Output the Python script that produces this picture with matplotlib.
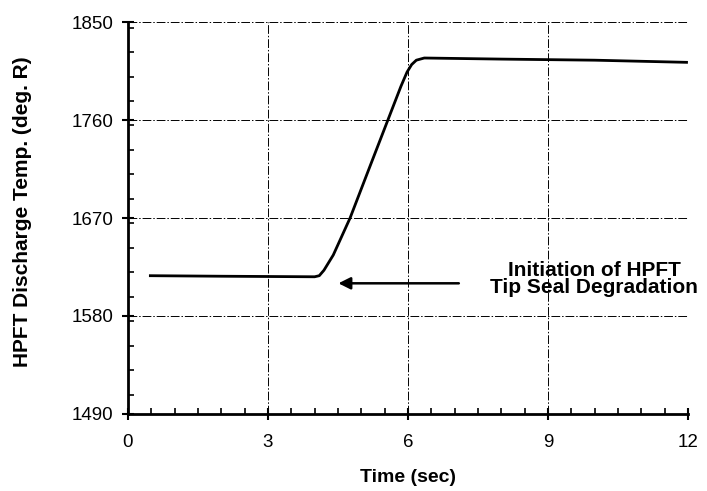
import matplotlib
matplotlib.use("Agg")
import matplotlib.pyplot as plt
from matplotlib.ticker import MultipleLocator

plt.rcParams['font.family'] = ['Liberation Sans', 'DejaVu Sans']

# temperature trace
time_s = [0.45, 2.0, 4.0, 4.1, 4.2, 4.4, 4.76, 5.2, 5.57, 5.85, 5.98, 6.08, 6.18, 6.35, 8.0, 10.0, 12.0]
temp_R = [1617, 1616.5, 1616, 1617, 1622, 1636, 1670, 1719, 1760, 1791, 1804, 1811, 1815, 1817, 1816, 1815, 1813]

xticks = [0, 3, 6, 9, 12]
yticks = [1490, 1580, 1670, 1760, 1850]

fig = plt.figure(figsize=(7.07, 4.91), dpi=100)
ax = fig.add_axes([0.181, 0.157, 0.792, 0.798])

ax.plot(time_s, temp_R, color="black", linewidth=2.0, solid_capstyle="butt")

ax.set_xlim(0, 12)
ax.set_ylim(1490, 1850)
ax.set_xticks(xticks)
ax.set_yticks(yticks)
ax.xaxis.set_minor_locator(MultipleLocator(0.5))
ax.yaxis.set_minor_locator(MultipleLocator(22.5))

ax.grid(True, which="major", color="black", linewidth=0.7, linestyle=(0, (9, 2, 1.5, 2)))
for s in ["top", "right"]:
    ax.spines[s].set_visible(False)
ax.spines["left"].set_linewidth(2)
ax.spines["bottom"].set_linewidth(2)

ax.tick_params(which="major", direction="inout", length=9, width=1.5, labelsize=13.5)
ax.tick_params(axis="x", which="major", pad=10)
ax.tick_params(axis="y", which="major", pad=6)
ax.tick_params(which="minor", direction="in", length=4, width=1.2)

ax.set_xlabel("Time (sec)", fontsize=14, fontweight="bold", labelpad=13)
ax.set_ylabel("HPFT Discharge Temp. (deg. R)", fontsize=15, fontweight="bold")
ax.yaxis.set_label_coords(-0.171, 0.515)

ax.annotate("", xy=(4.45, 1610), xytext=(7.15, 1610),
            arrowprops=dict(arrowstyle="-|>", color="black", lw=1.8, mutation_scale=18))
ax.text(9.99, 1614, "Initiation of HPFT\nTip Seal Degradation", fontsize=15, fontweight="bold",
        ha="center", va="center", linespacing=0.92, multialignment="center")

fig.savefig("out.png", dpi=100)
